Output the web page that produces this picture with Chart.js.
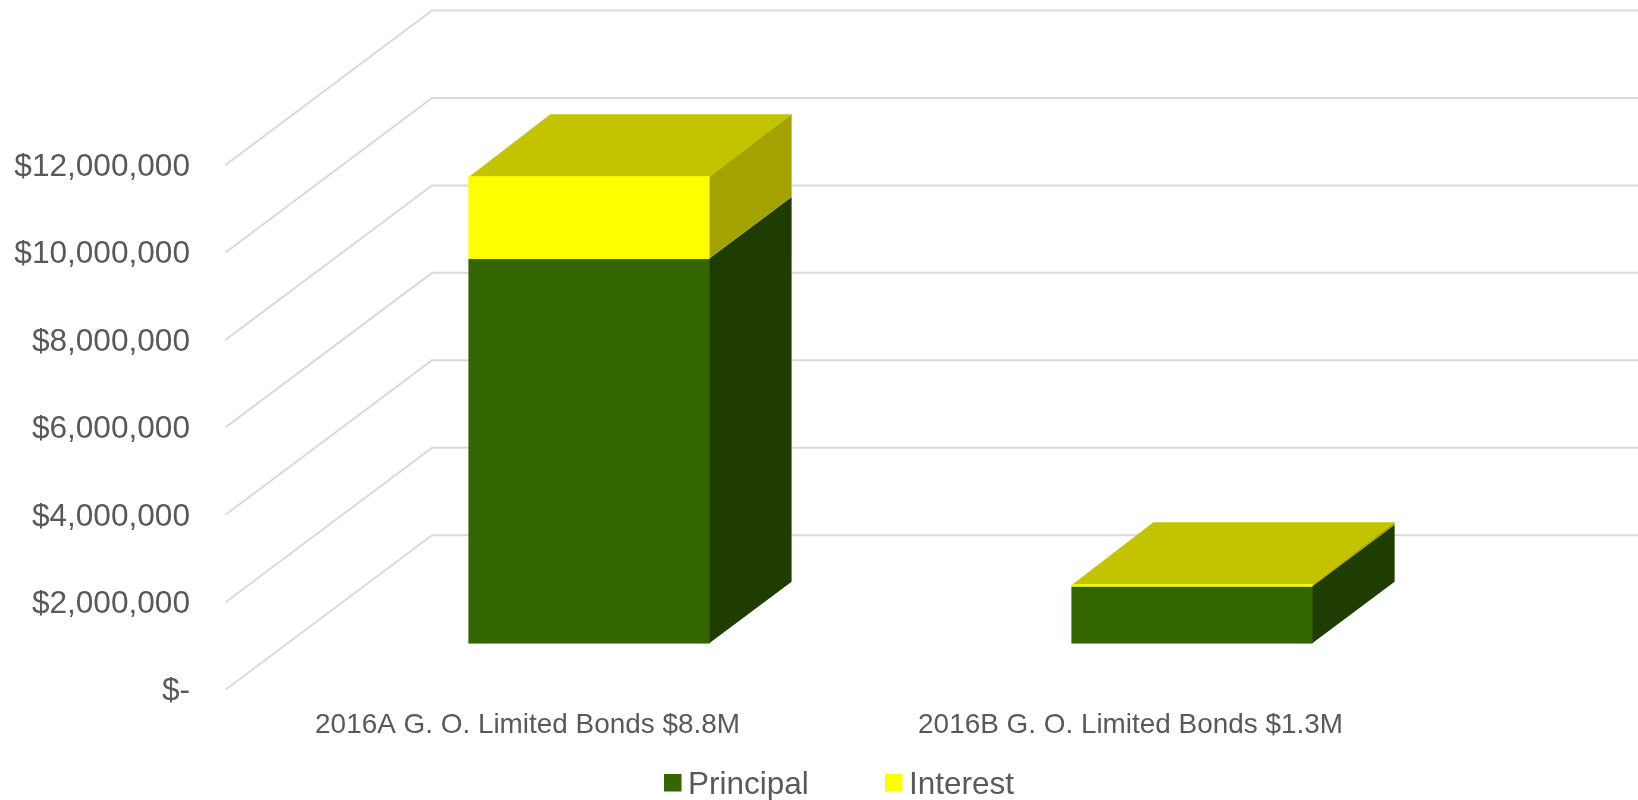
<!DOCTYPE html>
<html>
<head>
<meta charset="utf-8">
<title>G. O. Limited Bonds</title>
<script src="https://cdn.jsdelivr.net/npm/chart.js@4"></script>
<style>
    html, body { margin: 0; padding: 0; background: #fff; }
    canvas { display: block; }
</style>
</head>
<body>
<canvas id="bondsChart" width="1638" height="800"></canvas>
<script>
const categories = ['2016A G. O. Limited Bonds $8.8M', '2016B G. O. Limited Bonds $1.3M'];
const principal = [8800000, 1300000];
const interest = [1890000, 60000];
const yTickLabels = ['$-', '$2,000,000', '$4,000,000', '$6,000,000', '$8,000,000', '$10,000,000', '$12,000,000'];

const FONT = '"Liberation Sans", Arial, sans-serif';
const TEXT_COLOR = '#595959';
const GRID_COLOR = '#DADADA';

// colours for the fake 3D faces, one entry per dataset
const sideColors = ['#1F3D00', '#A3A300'];
const topColor = '#C3C300';

// box depth, and how far the floor runs in front of / behind the bars
const BOX_DX = 82;
const BOX_DY = 62;
const FLOOR_FRONT = { dx: 62, dy: 46 };
const FLOOR_BACK = { dx: 144.5, dy: 108.5 };

function fillPoly(ctx, points, color) {
    ctx.fillStyle = color;
    ctx.beginPath();
    points.forEach((p, i) => i ? ctx.lineTo(p[0], p[1]) : ctx.moveTo(p[0], p[1]));
    ctx.closePath();
    ctx.fill();
}

// walls and floor: every tick gets a diagonal plus a line along the back wall
const wallGrid = {
    id: 'wallGrid',
    beforeDatasetsDraw(chart) {
        const { ctx, chartArea, scales } = chart;
        const frontX = chartArea.left - FLOOR_FRONT.dx;
        const backX = chartArea.left + FLOOR_BACK.dx;
        const rightX = chartArea.right + FLOOR_BACK.dx;
        ctx.save();
        ctx.strokeStyle = GRID_COLOR;
        ctx.lineWidth = 2;
        scales.y.ticks.forEach(tick => {
            const y = scales.y.getPixelForValue(tick.value);
            ctx.beginPath();
            ctx.moveTo(frontX, y + FLOOR_FRONT.dy);
            ctx.lineTo(backX, y - FLOOR_BACK.dy);
            ctx.lineTo(rightX, y - FLOOR_BACK.dy);
            ctx.stroke();
        });
        ctx.restore();
    }
};

// side and top faces behind each bar element
const boxFaces = {
    id: 'boxFaces',
    beforeDatasetsDraw(chart) {
        const { ctx } = chart;
        const lastSet = chart.data.datasets.length - 1;
        ctx.save();
        chart.data.datasets.forEach((ds, d) => {
            chart.getDatasetMeta(d).data.forEach(bar => {
                const left = bar.x - bar.width / 2;
                const right = bar.x + bar.width / 2;
                fillPoly(ctx, [
                    [right - 1, bar.y],
                    [right + BOX_DX, bar.y - BOX_DY],
                    [right + BOX_DX, bar.base - BOX_DY],
                    [right - 1, bar.base]
                ], sideColors[d]);
                if (d === lastSet) {
                    fillPoly(ctx, [
                        [left, bar.y + 1],
                        [left + BOX_DX, bar.y - BOX_DY],
                        [right + BOX_DX, bar.y - BOX_DY],
                        [right, bar.y + 1]
                    ], topColor);
                }
            });
        });
        ctx.restore();
    }
};

// legend with a wide gap between entries, which the built-in one can't do
const wideLegend = {
    id: 'wideLegend',
    afterDraw(chart) {
        const { ctx } = chart;
        const starts = [664, 885];
        ctx.save();
        ctx.font = '31.5px ' + FONT;
        ctx.textAlign = 'left';
        ctx.textBaseline = 'middle';
        chart.data.datasets.forEach((ds, i) => {
            ctx.fillStyle = ds.backgroundColor;
            ctx.fillRect(starts[i], 774, 17.5, 17.5);
            ctx.fillStyle = TEXT_COLOR;
            ctx.fillText(ds.label, starts[i] + 24, 785);
        });
        ctx.restore();
    }
};

new Chart(document.getElementById('bondsChart'), {
    type: 'bar',
    data: {
        labels: categories,
        datasets: [
            { label: 'Principal', data: principal, backgroundColor: '#336600' },
            { label: 'Interest', data: interest, backgroundColor: '#FFFF00' }
        ]
    },
    plugins: [wallGrid, boxFaces, wideLegend],
    options: {
        responsive: false,
        animation: false,
        barPercentage: 0.4,
        categoryPercentage: 1,
        layout: { padding: { top: 119, right: 144.5, bottom: 0, left: 0 } },
        plugins: {
            legend: { display: false },
            tooltip: { enabled: false }
        },
        scales: {
            x: {
                stacked: true,
                grid: { display: false, drawTicks: false },
                border: { display: false },
                afterFit(scale) { scale.height = 156.3; },
                ticks: {
                    autoSkip: false,
                    maxRotation: 0,
                    padding: 65,
                    labelOffset: -61.5,
                    color: TEXT_COLOR,
                    font: { family: FONT, size: 27.9 }
                }
            },
            y: {
                stacked: true,
                min: 0,
                max: 12000000,
                grid: { display: false, drawTicks: false },
                border: { display: false },
                afterFit(scale) { scale.width = 287.5; },
                ticks: {
                    stepSize: 2000000,
                    padding: 97.5,
                    labelOffset: 48,
                    color: TEXT_COLOR,
                    font: { family: FONT, size: 31.6 },
                    callback: (value, index) => yTickLabels[index]
                }
            }
        }
    }
});
</script>
</body>
</html>
